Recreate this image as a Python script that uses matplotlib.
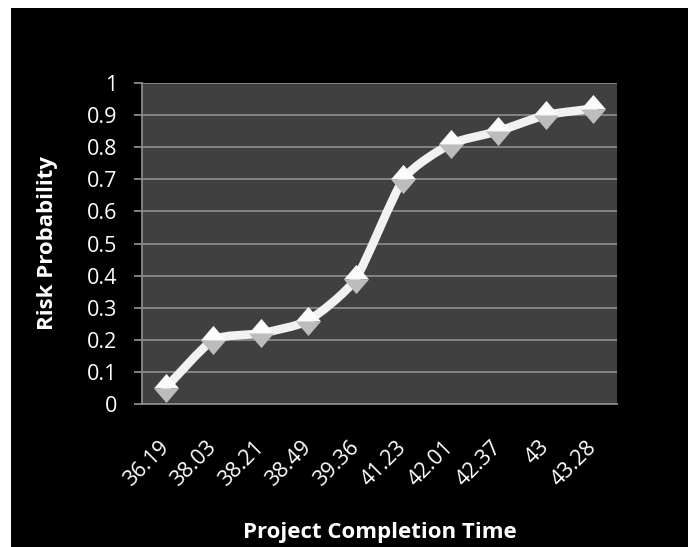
import matplotlib.pyplot as plt
from matplotlib.path import Path
from matplotlib.patches import PathPatch, Rectangle

completion_time = ["36.19", "38.03", "38.21", "38.49", "39.36",
                   "41.23", "42.01", "42.37", "43", "43.28"]
risk_probability = [0.05, 0.20, 0.22, 0.26, 0.39, 0.70, 0.81, 0.85, 0.90, 0.92]

plt.rcParams['font.family'] = ['Open Sans', 'DejaVu Sans']

fig = plt.figure(figsize=(6.88, 5.47), dpi=100, facecolor='white')
# black chart area inside a thin white margin on the top and left
fig.patches.append(Rectangle((11 / 688, 0), 1, 1 - 8 / 547, transform=fig.transFigure,
                             facecolor='black', edgecolor='none', zorder=-1))

ax = fig.add_axes([142 / 688, 1 - 404 / 547, 475 / 688, 321 / 547])
ax.set_zorder(1)
ax.set_facecolor('#404040')

xs = list(range(len(risk_probability)))
ys = risk_probability

# lightly smoothed line: cubic Bezier segments through the points
k = 1 / 10
verts = [(xs[0], ys[0])]
codes = [Path.MOVETO]
n = len(xs)
for i in range(n - 1):
    x0, y0 = xs[max(i - 1, 0)], ys[max(i - 1, 0)]
    x1, y1 = xs[i], ys[i]
    x2, y2 = xs[i + 1], ys[i + 1]
    x3, y3 = xs[min(i + 2, n - 1)], ys[min(i + 2, n - 1)]
    c1 = (x1 + (x2 - x0) * k, y1 + (y2 - y0) * k)
    c2 = (x2 - (x3 - x1) * k, y2 - (y3 - y1) * k)
    verts += [c1, c2, (x2, y2)]
    codes += [Path.CURVE4] * 3
ax.add_patch(PathPatch(Path(verts, codes), fill=False, edgecolor='#f2f2f2',
                       lw=6.2, capstyle='round', joinstyle='round', zorder=3))

# diamond markers, light upper half and shaded lower half
upper = [(-0.86, 0), (0, 1), (0.86, 0), (-0.86, 0)]
lower = [(-0.86, 0), (0, -1), (0.86, 0), (-0.86, 0)]
ax.plot(xs, ys, linestyle='none', marker=upper, markersize=21,
        markerfacecolor='#fbfbfb', markeredgecolor='none', zorder=4)
ax.plot(xs, ys, linestyle='none', marker=lower, markersize=21,
        markerfacecolor='#bcbcbc', markeredgecolor='none', zorder=4)

ax.set_xlim(-0.5, n - 0.5)
ax.set_ylim(0, 1)
ax.set_yticks([i / 10 for i in range(11)])
ax.set_yticklabels(['0'] + [f'0.{i}' for i in range(1, 10)] + ['1'])
ax.yaxis.grid(True, color='#8a8a8a', lw=1.3)
ax.set_axisbelow(True)

ax.set_xticks(xs)
ax.set_xticklabels(completion_time, rotation=45, ha='right', va='center',
                   rotation_mode='anchor')

for side in ['top', 'right']:
    ax.spines[side].set_visible(False)
for side in ['left', 'bottom']:
    ax.spines[side].set_color('#8a8a8a')
    ax.spines[side].set_linewidth(1.3)

ax.tick_params(axis='y', colors='#8a8a8a', length=6, width=1.3, pad=12,
               labelcolor='white', labelsize=15.5)
ax.tick_params(axis='x', length=0, pad=29, labelcolor='white', labelsize=15.5)

ax.set_ylabel('Risk Probability', color='white', fontsize=16, fontweight='bold', va='center')
ax.yaxis.set_label_coords(-0.198, 0.5)
ax.set_xlabel('Project Completion Time', color='white', fontsize=16, fontweight='bold', va='center')
ax.xaxis.set_label_coords(0.5, -0.40)

fig.savefig('out.png', dpi=100, facecolor=fig.get_facecolor())
